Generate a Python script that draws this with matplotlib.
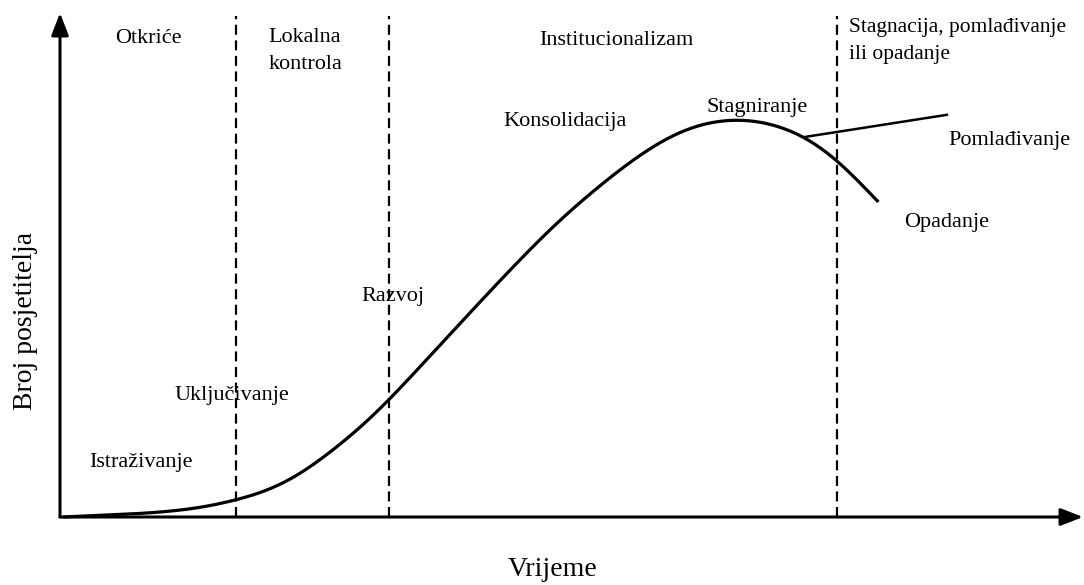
import numpy as np
import matplotlib
matplotlib.use("Agg")
import matplotlib.pyplot as plt

# ---- data (time and visitors in arbitrary units) ----
curve_time = [0.3, 8.8, 13.7, 17.8, 20.5, 23.5, 26.7, 30.0, 32.5, 36.5, 39.6, 44.0,
              48.6, 53.5, 56.7, 59.9, 63.2, 66.5, 69.4, 72.8, 75.8, 80.0]
curve_visitors = [0.0, 0.8, 1.8, 3.8, 5.4, 8.5, 13.5, 18.8, 24.0, 32.7, 39.5, 49.0,
                  58.5, 66.9, 71.8, 75.8, 78.2, 78.8, 78.0, 75.4, 71.2, 62.5]
rejuvenation_time = [72.8, 86.7]
rejuvenation_visitors = [75.4, 79.8]
stage_boundaries = [17.2, 32.2, 76.0]

phase_labels = ["Otkriće", "Lokalna\nkontrola", "Institucionalizam",
                "Stagnacija, pomlađivanje\nili opadanje"]
stage_labels = ["Istraživanje", "Uključivanje", "Razvoj", "Konsolidacija",
                "Stagniranje", "Pomlađivanje", "Opadanje"]
x_label = "Vrijeme"
y_label = "Broj posjetitelja"


def smooth_line(x, y, n=400, lam=6000.0):
    """Render the read points as a smooth stroke (Whittaker smoothing of the polyline)."""
    xs = np.linspace(x[0], x[-1], n)
    ys = np.interp(xs, x, y)
    D = np.diff(np.eye(n), 2, axis=0)
    W = np.eye(n)
    W[0, 0] = W[-1, -1] = 1e4  # pin end points
    z = np.linalg.solve(W + lam * D.T @ D, W @ ys)
    return xs, z


plt.rcParams['font.family'] = ['Liberation Serif', 'DejaVu Serif']

W_PX, H_PX = 1084, 585
fig = plt.figure(figsize=(W_PX / 100, H_PX / 100), dpi=100)
x0, y0, x1, y1 = 60, 517, 1083, 13
ax = fig.add_axes([x0 / W_PX, (H_PX - y0) / H_PX, (x1 - x0) / W_PX, (y0 - y1) / H_PX])
ax.set_xlim(0, 100)
ax.set_ylim(0, 100)
ax.axis('off')

# axes arrows
arrow_kw = dict(arrowstyle='-|>,head_length=0.9,head_width=0.35', lw=2.2, color='black',
                shrinkA=0, shrinkB=0, mutation_scale=15)
ax.annotate('', xy=(100, 0), xytext=(0, 0), arrowprops=arrow_kw, annotation_clip=False)
ax.annotate('', xy=(0, 100), xytext=(0, 0), arrowprops=arrow_kw, annotation_clip=False)

# stage boundaries
for b in stage_boundaries:
    ax.plot([b, b], [0, 99.5], color='black', lw=1.6, linestyle=(0, (4.5, 2.5)),
            clip_on=False)

# main curve
cx, cy = smooth_line(curve_time, curve_visitors)
ax.plot(cx, cy, color='black', lw=2.3, solid_capstyle='butt', clip_on=False)
# rejuvenation branch
ax.plot(rejuvenation_time, rejuvenation_visitors, color='black', lw=1.8, clip_on=False)

fs = 16
# phase labels (top)
ax.text(8.6, 95.0, phase_labels[0], ha='center', va='center', fontsize=fs)
ax.text(20.4, 92.4, phase_labels[1], ha='left', va='center', fontsize=fs, linespacing=1.55)
ax.text(54.4, 94.6, phase_labels[2], ha='center', va='center', fontsize=fs)
ax.text(77.1, 94.4, phase_labels[3], ha='left', va='center', fontsize=15.5, linespacing=1.6)

# stage labels
stage_pos = [(7.9, 10.9), (16.8, 24.2), (32.5, 43.7), (49.4, 78.4),
             (68.1, 81.3), (92.8, 74.8), (86.7, 58.5)]
for lab, (tx, ty) in zip(stage_labels, stage_pos):
    ax.text(tx, ty, lab, ha='center', va='center', fontsize=fs, clip_on=False)

# axis titles
ax.text(48.1, -10.5, x_label, ha='center', va='center', fontsize=20, clip_on=False)
ax.text(-3.4, 38.9, y_label, ha='center', va='center', fontsize=20, rotation=90,
        clip_on=False)

fig.savefig("out.png", dpi=100)
